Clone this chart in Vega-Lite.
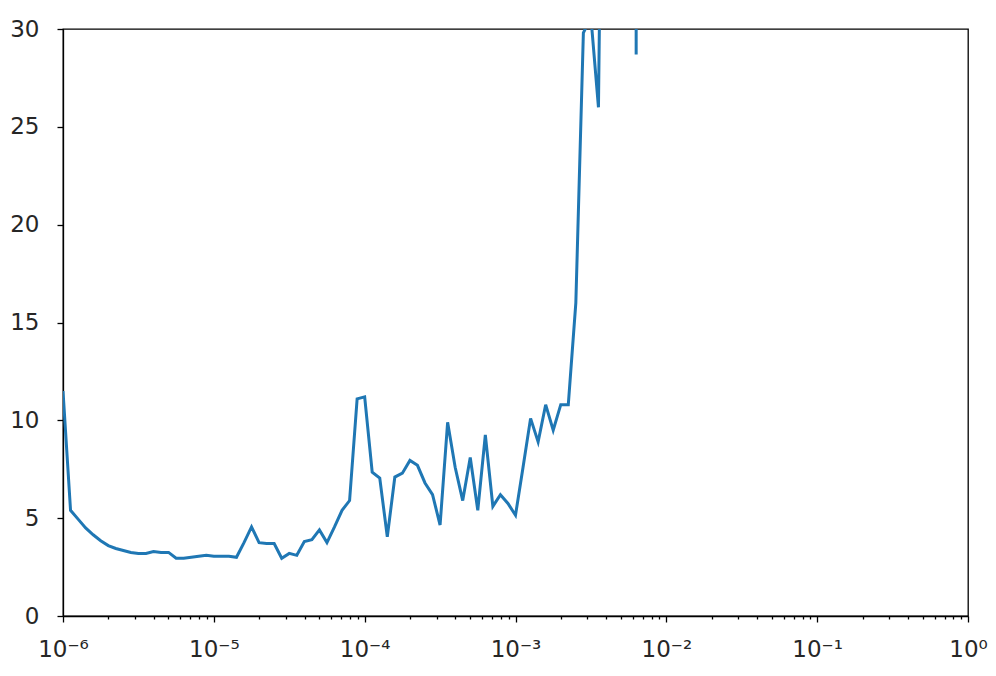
{
  "$schema": "https://vega.github.io/schema/vega-lite/v6.json",
  "width": 905,
  "height": 587,
  "autosize": {"type": "none"},
  "padding": {"left": 63, "top": 29, "right": 28, "bottom": 60},
  "background": "white",
  "config": {
    "view": {"stroke": "#000000", "strokeWidth": 1.3},
    "axis": {
      "domainColor": "#000000",
      "domainWidth": 1.3,
      "tickColor": "#000000",
      "tickWidth": 1.3,
      "labelFont": "DejaVu Sans",
      "labelFontSize": 23,
      "labelColor": "#262626",
      "grid": false,
      "title": null
    }
  },
  "data": {
    "values": [
      {"lr": 1.0e-6, "loss": 11.5},
      {"lr": 1.122018e-6, "loss": 5.4},
      {"lr": 1.258925e-6, "loss": 4.95},
      {"lr": 1.412538e-6, "loss": 4.5},
      {"lr": 1.584893e-6, "loss": 4.15},
      {"lr": 1.778279e-6, "loss": 3.85},
      {"lr": 1.995262e-6, "loss": 3.6},
      {"lr": 2.238721e-6, "loss": 3.45},
      {"lr": 2.511886e-6, "loss": 3.35},
      {"lr": 2.818383e-6, "loss": 3.25},
      {"lr": 3.162278e-6, "loss": 3.2},
      {"lr": 3.548134e-6, "loss": 3.2},
      {"lr": 3.981072e-6, "loss": 3.3},
      {"lr": 4.466836e-6, "loss": 3.25},
      {"lr": 5.011872e-6, "loss": 3.25},
      {"lr": 5.623413e-6, "loss": 2.95},
      {"lr": 6.309573e-6, "loss": 2.95},
      {"lr": 7.079458e-6, "loss": 3.0},
      {"lr": 7.943282e-6, "loss": 3.05},
      {"lr": 8.912509e-6, "loss": 3.1},
      {"lr": 1.0e-5, "loss": 3.05},
      {"lr": 1.122018e-5, "loss": 3.05},
      {"lr": 1.258925e-5, "loss": 3.05},
      {"lr": 1.412538e-5, "loss": 3.0},
      {"lr": 1.584893e-5, "loss": 3.75},
      {"lr": 1.778279e-5, "loss": 4.55},
      {"lr": 1.995262e-5, "loss": 3.75},
      {"lr": 2.238721e-5, "loss": 3.7},
      {"lr": 2.511886e-5, "loss": 3.7},
      {"lr": 2.818383e-5, "loss": 2.95},
      {"lr": 3.162278e-5, "loss": 3.2},
      {"lr": 3.548134e-5, "loss": 3.1},
      {"lr": 3.981072e-5, "loss": 3.8},
      {"lr": 4.466836e-5, "loss": 3.9},
      {"lr": 5.011872e-5, "loss": 4.4},
      {"lr": 5.623413e-5, "loss": 3.75},
      {"lr": 6.309573e-5, "loss": 4.55},
      {"lr": 7.079458e-5, "loss": 5.4},
      {"lr": 7.943282e-5, "loss": 5.9},
      {"lr": 8.912509e-5, "loss": 11.1},
      {"lr": 1.0e-4, "loss": 11.2},
      {"lr": 1.122018e-4, "loss": 7.35},
      {"lr": 1.258925e-4, "loss": 7.05},
      {"lr": 1.412538e-4, "loss": 4.05},
      {"lr": 1.584893e-4, "loss": 7.1},
      {"lr": 1.778279e-4, "loss": 7.3},
      {"lr": 1.995262e-4, "loss": 7.95},
      {"lr": 2.238721e-4, "loss": 7.7},
      {"lr": 2.511886e-4, "loss": 6.8},
      {"lr": 2.818383e-4, "loss": 6.2},
      {"lr": 3.162278e-4, "loss": 4.65},
      {"lr": 3.548134e-4, "loss": 9.9},
      {"lr": 3.981072e-4, "loss": 7.6},
      {"lr": 4.466836e-4, "loss": 5.9},
      {"lr": 5.011872e-4, "loss": 8.1},
      {"lr": 5.623413e-4, "loss": 5.4},
      {"lr": 6.309573e-4, "loss": 9.25},
      {"lr": 7.079458e-4, "loss": 5.6},
      {"lr": 7.943282e-4, "loss": 6.2},
      {"lr": 8.912509e-4, "loss": 5.75},
      {"lr": 1.0e-3, "loss": 5.15},
      {"lr": 1.122018e-3, "loss": 7.6},
      {"lr": 1.258925e-3, "loss": 10.1},
      {"lr": 1.412538e-3, "loss": 8.9},
      {"lr": 1.584893e-3, "loss": 10.8},
      {"lr": 1.778279e-3, "loss": 9.5},
      {"lr": 1.995262e-3, "loss": 10.8},
      {"lr": 2.238721e-3, "loss": 10.8},
      {"lr": 2.511886e-3, "loss": 16.0},
      {"lr": 2.818383e-3, "loss": 29.8},
      {"lr": 3.162278e-3, "loss": 30.6},
      {"lr": 3.548134e-3, "loss": 26.0},
      {"lr": 3.981072e-3, "loss": 60},
      {"lr": 4.466836e-3, "loss": 400},
      {"lr": 5.011872e-3, "loss": 900},
      {"lr": 5.623413e-3, "loss": 3000},
      {"lr": 6.309573e-3, "loss": 28.7},
      {"lr": 7.079458e-3, "loss": 5000},
      {"lr": 7.943282e-3, "loss": 20000}
    ]
  },
  "mark": {"type": "line", "color": "#1f77b4", "strokeWidth": 3, "clip": true},
  "encoding": {
    "x": {
      "field": "lr",
      "type": "quantitative",
      "scale": {"type": "log", "domain": [1e-6, 1], "nice": false},
      "axis": {
        "values": [1e-6, 2e-6, 3e-6, 4e-6, 5e-6, 6e-6, 7e-6, 8e-6, 9e-6,
                   1e-5, 2e-5, 3e-5, 4e-5, 5e-5, 6e-5, 7e-5, 8e-5, 9e-5,
                   1e-4, 2e-4, 3e-4, 4e-4, 5e-4, 6e-4, 7e-4, 8e-4, 9e-4,
                   1e-3, 2e-3, 3e-3, 4e-3, 5e-3, 6e-3, 7e-3, 8e-3, 9e-3,
                   1e-2, 2e-2, 3e-2, 4e-2, 5e-2, 6e-2, 7e-2, 8e-2, 9e-2,
                   1e-1, 2e-1, 3e-1, 4e-1, 5e-1, 6e-1, 7e-1, 8e-1, 9e-1, 1],
        "labelExpr": "abs(log(datum.value)/LN10 - round(log(datum.value)/LN10)) < 1e-6 ? '10' + (round(log(datum.value)/LN10) < 0 ? '⁻' : '') + ['⁰','¹','²','³','⁴','⁵','⁶'][abs(round(log(datum.value)/LN10))] : ''",
        "labelOverlap": false,
        "labelFlush": false,
        "labelPadding": 16,
        "tickSize": {"condition": {"test": "abs(log(datum.value)/LN10 - round(log(datum.value)/LN10)) < 1e-6", "value": 6}, "value": 3}
      }
    },
    "y": {
      "field": "loss",
      "type": "quantitative",
      "scale": {"domain": [0, 30], "nice": false, "zero": true},
      "axis": {
        "values": [0, 5, 10, 15, 20, 25, 30],
        "tickSize": 6,
        "labelPadding": 18
      }
    }
  }
}
